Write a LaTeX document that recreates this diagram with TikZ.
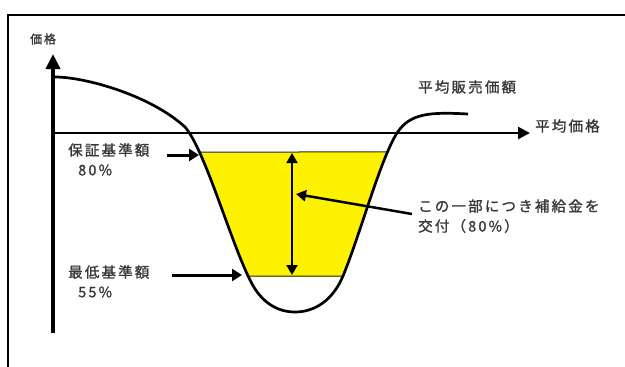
\documentclass[tikz,border=0pt]{standalone}
\usepackage{fontspec}
\newfontfamily\jpfont[LetterSpace=15, FakeBold=1.2]{Noto Sans CJK JP}
\usetikzlibrary{arrows.meta,intersections}
\newcommand\valleypath{(55,77) .. controls (85,77) and (150,95) .. (185,127) .. controls (205,150) and (230,240) .. (250,280) .. controls (262,305) and (280,312) .. (295,312) .. controls (315,312) and (333,300) .. (343,276) .. controls (360,235) and (380,160) .. (397,133) .. controls (410,113) and (430,112) .. (468,114)}
\begin{document}
\begin{tikzpicture}[x=1pt,y=-1pt,
  lbl/.style={font=\jpfont\fontsize{14.5}{17}\selectfont, text=black!78, inner sep=0pt, anchor=west},
  smalllbl/.style={font=\jpfont\fontsize{12}{14}\selectfont, text=black!78, inner sep=0pt, anchor=west},
  frameline/.style={line width=2pt, black},
  yaxis/.style={line width=4pt, -{Triangle[length=15pt,width=14pt]}},
  xaxis/.style={line width=2.5pt, -{Triangle[length=12pt,width=12pt]}},
  curveline/.style={line width=2.7pt, line join=round},
  ptrarrow/.style={line width=3pt, -{Triangle[length=10pt,width=12pt]}},
  dblarrow/.style={line width=2pt, {Triangle[length=10pt,width=11pt]}-{Triangle[length=10pt,width=11pt]}},
  thinline/.style={line width=1pt, black!85}]
\useasboundingbox (0,0) rectangle (625,367);
% frame
\coordinate (fb) at (7.5,367);
\coordinate (fc) at (7.5,15);
\coordinate (fr) at (625,15);
\draw[frameline] (fb) -- (fc) -- (fr);
% yellow region
\begin{scope}
  \clip (0,152) rectangle (625,276);
  \fill[yellow] \valleypath -- cycle;
\end{scope}
\path[name path=curve] \valleypath;
\path[name path=topline] (0,152) -- (625,152);
\path[name path=botline] (0,276) -- (625,276);
\path[name intersections={of=curve and topline, by={tl,tr}, sort by=topline}];
\path[name intersections={of=curve and botline, by={bl,br}, sort by=botline}];
\draw[thinline] (tl) -- (tr);
\draw[thinline] (bl) -- (br);
% curve
\draw[curveline] \valleypath;
\coordinate (curveend) at (468,114);
% axes
\coordinate (origin) at (53,333);
\coordinate (ytip) at (53,54);
\coordinate (xstart) at (53,133);
\coordinate (xtip) at (530,133);
\draw[yaxis] (origin) -- (ytip);
\draw[xaxis] (xstart) -- (xtip);
% labels
\node[smalllbl] (ylab) at (30,39) {価格};
\node[lbl] (xlab) at (535,126) {平均価格};
\node[lbl] (salelab) at (418,87) {平均販売価額};
\node[lbl] (guar) at (68,150) {保証基準額};
\node[lbl] (guarpct) at (78,170) {80\%};
\node[lbl] (minl) at (68,272) {最低基準額};
\node[lbl] (minpct) at (78,292) {55\%};
\node[lbl] (sub1) at (418,206) {この一部につき補給金を};
\node[lbl] (sub2) at (418,226) {交付（80\%）};
% arrows
\coordinate (ga1) at (167,155);
\coordinate (ga2) at (199,155);
\draw[ptrarrow] (ga1) -- (ga2);
\coordinate (ma1) at (172,275);
\coordinate (ma2) at (242,275);
\draw[ptrarrow] (ma1) -- (ma2);
\coordinate (dtop) at (292,153);
\coordinate (dbot) at (292,275);
\draw[dblarrow] (dtop) -- (dbot);
\coordinate (ps) at (412,214);
\coordinate (pe) at (296,194);
\draw[line width=2.5pt, -{Triangle[length=10pt,width=11pt]}] (ps) -- (pe);
\end{tikzpicture}
\end{document}
